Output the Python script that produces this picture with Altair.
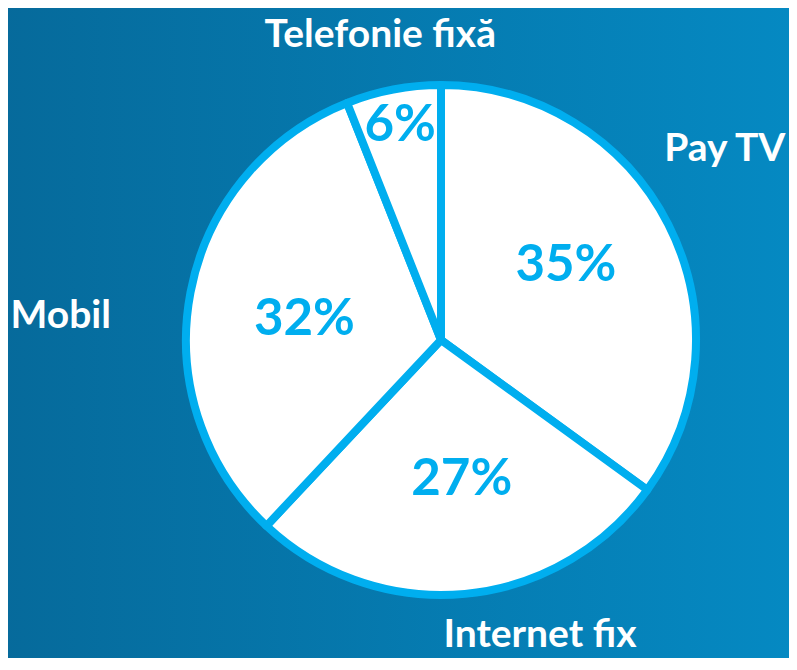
import math
import altair as alt
import pandas as pd

# ---- data ----
categories = ["Pay TV", "Internet fix", "Mobil", "Telefonie fixă"]
shares = [35, 27, 32, 6]
pct_labels = ["35%", "27%", "32%", "6%"]

# ---- layout (not data) ----
W, H = 781, 650
CX, CY = 433, 332
R_OUT = 255
# per-label (radius, angle offset in degrees) relative to slice middle
pct_layout = {"Pay TV": (145, -3.5), "Internet fix": (142, -3), "Mobil": (138, -2.5), "Telefonie fixă": (218, 0)}
cat_layout = {"Pay TV": (342, -6.9), "Internet fix": (311, -13.15), "Mobil": (381, -7.2), "Telefonie fixă": (311, -0.47)}

total = sum(shares)
rows = []
cum = 0
for i, (c, v, p) in enumerate(zip(categories, shares, pct_labels)):
    mid = (cum + v / 2) / total * 360
    cum += v
    pr, pd_ = pct_layout[c]
    cr, cd = cat_layout[c]
    pa = math.radians(mid + pd_)
    ca = math.radians(mid + cd)
    rows.append({
        "category": c, "share": v, "pct": p, "order": i,
        "px": CX + pr * math.sin(pa), "py": CY - pr * math.cos(pa),
        "cx": CX + cr * math.sin(ca), "cy": CY - cr * math.cos(ca),
    })
df = pd.DataFrame(rows)

bg = alt.Chart(alt.Data(values=[{}])).mark_rect(
    color=alt.LinearGradient(
        gradient="linear",
        stops=[alt.GradientStop(color="#066a9b", offset=0),
               alt.GradientStop(color="#0589c2", offset=1)],
        x1=0, x2=1, y1=0, y2=0,
    )
).encode(x=alt.value(-8), x2=alt.value(W), y=alt.value(-8), y2=alt.value(H))

base = alt.Chart(df)

pie = base.mark_arc(
    outerRadius=R_OUT, fill="white", stroke="#00aeef", strokeWidth=8, strokeJoin="round"
).encode(
    theta=alt.Theta("share:Q", stack=True),
    order=alt.Order("order:Q"),
    x=alt.value(CX), y=alt.value(CY),
)

pct_text = base.mark_text(
    font="Lato", fontWeight="bold", fontSize=51, color="#00aeef",
    align="center", baseline="middle",
).encode(
    x=alt.X("px:Q", scale=None, axis=None),
    y=alt.Y("py:Q", scale=None, axis=None),
    text="pct:N",
)

cat_text = base.mark_text(
    font="Lato", fontWeight="bold", fontSize=39, color="white",
    align="center", baseline="middle",
).encode(
    x=alt.X("cx:Q", scale=None, axis=None),
    y=alt.Y("cy:Q", scale=None, axis=None),
    text="category:N",
)

chart = alt.layer(bg, pie, pct_text, cat_text).properties(
    width=W, height=H, padding=0,
    autosize=alt.AutoSizeParams(type="none"),
).configure_view(stroke=None)

chart.save("out.html", embed_options={"renderer": "svg", "actions": False})
